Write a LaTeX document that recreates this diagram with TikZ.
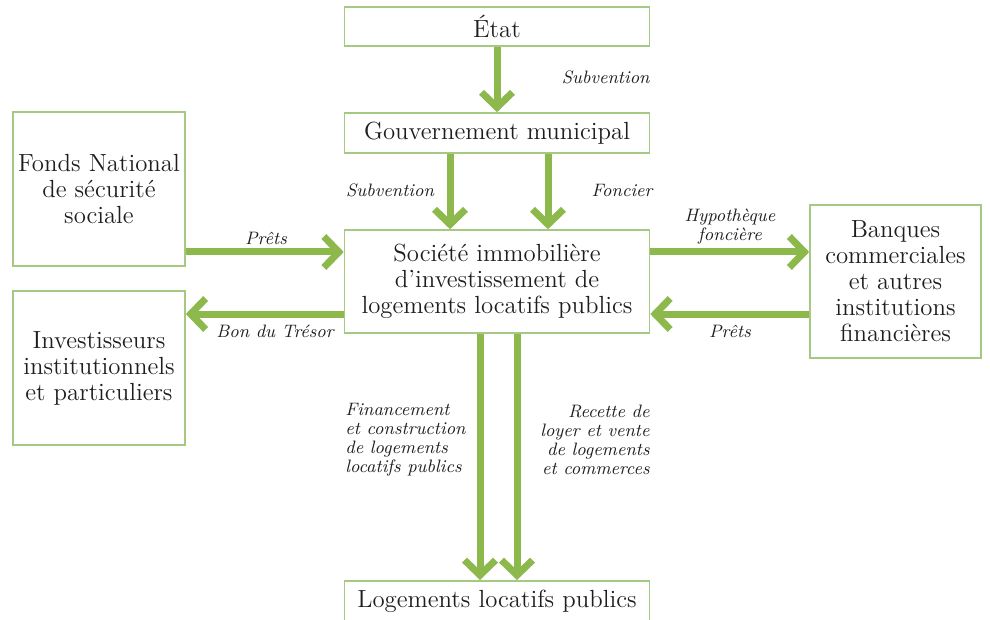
\documentclass[tikz,border=0pt]{standalone}
\usetikzlibrary{arrows.meta}
\definecolor{leaf}{RGB}{140,184,76}
\definecolor{leafline}{RGB}{165,200,130}
\definecolor{ink}{RGB}{30,30,30}
\begin{document}
\begin{tikzpicture}
	[x=0.5pt,y=-0.5pt,
	box/.style={draw=leafline,line width=0.8pt,fill=white,text=ink,align=center,inner sep=0pt,font=\fontsize{12.4}{13}\selectfont},
	flow/.style={draw=leaf,line width=3.5pt,-{Straight Barb[length=7.5pt,width=15.5pt]}},
	tag/.style={text=ink,inner sep=0pt,font=\fontsize{9}{9.5}\selectfont\itshape}]
	\useasboundingbox (0,0) rectangle (990,620);
	\node [box,minimum width=152.5pt,minimum height=19.5pt] (etat) at (497,26.5) {État};
	\node [box,minimum width=152.5pt,minimum height=20pt] (gouv) at (497,133) {Gouvernement municipal};
	\node [box,minimum width=152.5pt,minimum height=51.5pt] (soc) at (497,281.5)
		{Société immobilière\\d’investissement de\\logements locatifs publics};
	\node [box,minimum width=86pt,minimum height=77pt] (fonds) at (99,189)
		{Fonds National\\de sécurité\\sociale};
	\node [box,minimum width=86pt,minimum height=77pt] (invest) at (99,368)
		{Investisseurs\\institutionnels\\et particuliers};
	\node [box,minimum width=85.5pt,minimum height=76.5pt] (banq) at (895.5,281.5)
		{Banques\\commerciales\\et autres\\institutions\\financières};
	\node [box,minimum width=152.5pt,minimum height=23pt,anchor=north] (loge) at (497,580) {};
	\node [text=ink,font=\fontsize{12.4}{13}\selectfont] (logetxt) at (497,601) {Logements locatifs publics};
	\draw [flow] (etat) -- (gouv);
	\draw [flow] ([xshift=-23.5pt]gouv.south) -- ([xshift=-23.5pt]soc.north);
	\draw [flow] ([xshift=25.5pt]gouv.south) -- ([xshift=25.5pt]soc.north);
	\draw [flow] ([yshift=-31.5pt]fonds.east) -- ([yshift=14.75pt]soc.west);
	\draw [flow] ([yshift=-16.25pt]soc.west) -- ([yshift=27pt]invest.east);
	\draw [flow] ([yshift=14.75pt]soc.east) -- ([yshift=14.75pt]banq.west);
	\draw [flow] ([yshift=-16.25pt]banq.west) -- ([yshift=-16.25pt]soc.east);
	\draw [flow] ([xshift=-8.5pt]soc.south) -- ([xshift=-8.5pt]loge.north);
	\draw [flow] ([xshift=10pt]soc.south) -- ([xshift=10pt]loge.north);
	\node [tag,anchor=east] (t1) at (650,77) {Subvention};
	\node [tag] (t2) at (390,190) {Subvention};
	\node [tag] (t3) at (622,190) {Foncier};
	\node [tag,align=center] (t4) at (730,227) {Hypothèque\\foncière};
	\node [tag] (t5) at (266,238) {Prêts};
	\node [tag] (t6) at (275,331) {Bon du Trésor};
	\node [tag] (t7) at (730,331) {Prêts};
	\node [tag,align=left,anchor=west] (t8) at (345,440)
		{Financement\\et construction\\de logements\\locatifs publics};
	\node [tag,align=right,anchor=east] (t9) at (650,440)
		{Recette de\\loyer et vente\\de logements\\et commerces};
\end{tikzpicture}
\end{document}
